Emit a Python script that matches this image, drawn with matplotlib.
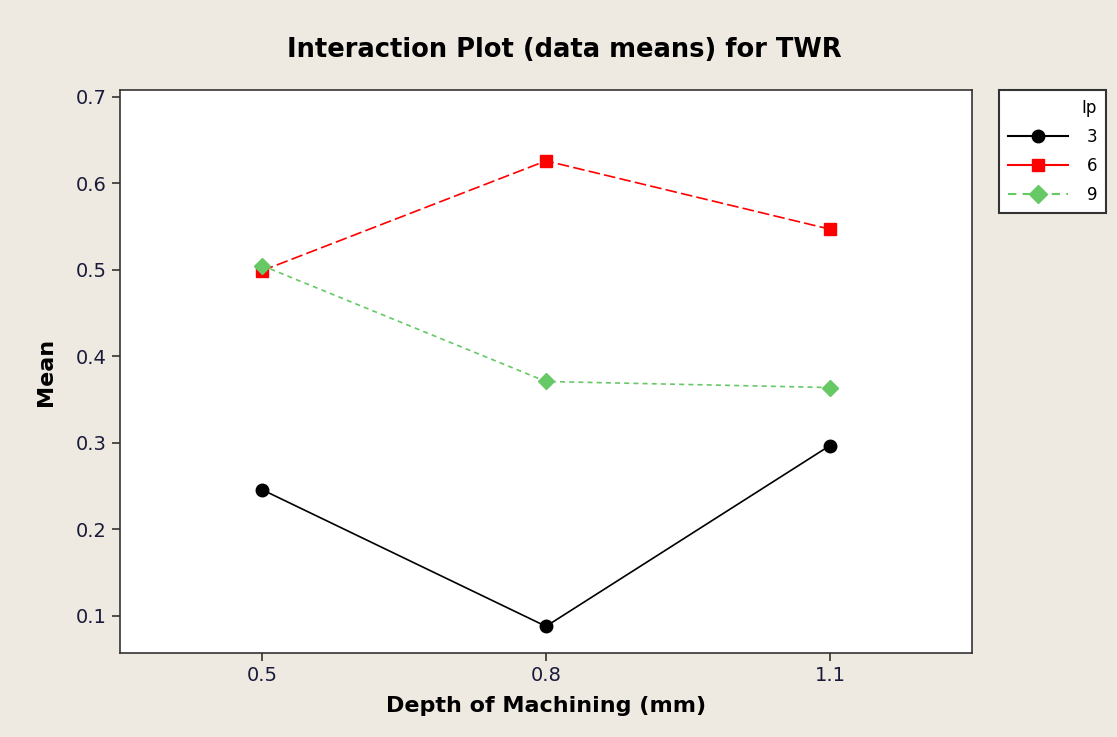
import matplotlib.pyplot as plt
from matplotlib.lines import Line2D

# data
depth = [0.5, 0.8, 1.1]
ip_levels = ['3', '6', '9']
twr_ip3 = [0.246, 0.088, 0.297]
twr_ip6 = [0.499, 0.626, 0.547]
twr_ip9 = [0.505, 0.371, 0.364]

bg = '#EEEAE1'
fig = plt.figure(figsize=(11.17, 7.37), dpi=100, facecolor=bg)
ax = fig.add_axes([0.1074, 0.114, 0.7628, 0.764])

ax.plot(depth, twr_ip3, color='black', lw=1.2, marker='o', ms=9, label=ip_levels[0])
ax.plot(depth, twr_ip6, color='#FF0000', lw=1.2, ls=(0, (7, 2.5)), marker='s', ms=9,
        label=ip_levels[1])
ax.plot(depth, twr_ip9, color='#66C966', lw=1.2, ls=(0, (3, 2.5)), marker='D', ms=8.5,
        label=ip_levels[2])

ax.set_xlim(0.35, 1.25)
ax.set_ylim(0.0572, 0.708)
ax.set_xticks(depth)
ax.set_xticklabels(['0.5', '0.8', '1.1'])
ax.set_yticks([0.1, 0.2, 0.3, 0.4, 0.5, 0.6, 0.7])
ax.tick_params(labelsize=14, length=6, width=1.2, colors='#333333', labelcolor='#1a1a3a')
for s in ax.spines.values():
    s.set_linewidth(1.2)
    s.set_color('#333333')

ax.set_xlabel('Depth of Machining (mm)', fontsize=16, fontweight='bold', labelpad=8)
ax.set_ylabel('Mean', fontsize=16, fontweight='bold', labelpad=14)
fig.suptitle('Interaction Plot (data means) for TWR', fontsize=18.5, fontweight='bold',
             x=0.505, y=0.95)

handles = [Line2D([], [], color='black', lw=1.5, marker='o', ms=9),
           Line2D([], [], color='#FF0000', lw=1.5, marker='s', ms=9),
           Line2D([], [], color='#66C966', lw=1.5, ls=(0, (4, 3)), marker='D', ms=9)]
leg = fig.legend(handles, ip_levels, title='Ip', loc='upper left',
                 bbox_to_anchor=(0.8944, 0.8779), borderaxespad=0,
                 fontsize=12, title_fontsize=12,
                 frameon=True, fancybox=False, edgecolor='#333333', facecolor='white',
                 framealpha=1, handlelength=3.6, handletextpad=1.1, borderpad=0.55,
                 labelspacing=0.65, alignment='right')
leg.get_frame().set_linewidth(1.5)

fig.savefig('out.png', dpi=100, facecolor=bg)
